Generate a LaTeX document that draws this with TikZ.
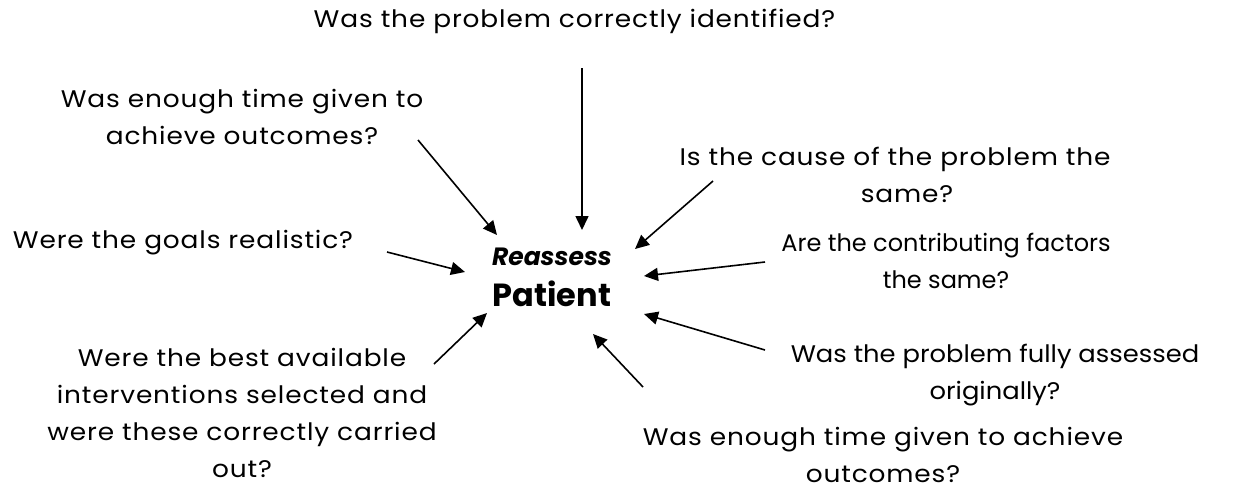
\documentclass[tikz,border=0pt]{standalone}
\usepackage{fontspec}
\setmainfont{Poppins}
\newfontfamily\qfont[FakeStretch=1.1,LetterSpace=3.6]{Poppins}
\newfontfamily\qfontb[FakeStretch=1.075]{Poppins}
\newfontfamily\qfontc{Poppins}
\usetikzlibrary{arrows.meta}
\begin{document}
\begin{tikzpicture}[x=1pt,y=-1pt,
  q/.style={font=\qfont\fontsize{24}{37}\selectfont, align=center, inner sep=0pt, anchor=center},
  qb/.style={q, font=\qfontb\fontsize{24}{37}\selectfont},
  qc/.style={q, font=\qfontc\fontsize{24}{37}\selectfont},
  arr/.style={line width=1.6pt, -{Triangle[length=14pt,width=13pt]}}]
\useasboundingbox (0,0) rectangle (1238,499);
\node[q] (t1) at (574.5,21) {Was the problem correctly identified?};
\node[q] (t2) at (242,117) {Was enough time given to\\achieve outcomes?};
\node[q] (t3) at (895,175) {Is the cause of the problem the\\\hspace*{24pt}same?};
\node[q] (t4) at (183,243) {Were the goals realistic?};
\node[qc] (t5) at (946,261) {Are the contributing factors\\the same?};
\node[q] (t6) at (242,413) {Were the best available\\interventions selected and\\were these correctly carried\\out?};
\node[qb] (t7) at (995,375) {Was the problem fully assessed\\originally?};
\node[q] (t8) at (883,455) {Was enough time given to achieve\\outcomes?};
\node[inner sep=0pt, align=center] (c) at (552,277)
  {{\fontsize{25}{30}\selectfont\bfseries\itshape Reassess}\\[14pt]{\fontsize{32}{36}\selectfont\bfseries Patient}};
\coordinate (s1) at (582,68);  \coordinate (e1) at (582,230);
\coordinate (s2) at (418,140); \coordinate (e2) at (497,235);
\coordinate (s3) at (713,181); \coordinate (e3) at (635,249);
\coordinate (s4) at (387,252); \coordinate (e4) at (465,272);
\coordinate (s5) at (765,262); \coordinate (e5) at (644,276);
\coordinate (s6) at (434,364); \coordinate (e6) at (487,313);
\coordinate (s7) at (765,350); \coordinate (e7) at (644,314);
\coordinate (s8) at (643,387); \coordinate (e8) at (593,334);
\foreach \i in {1,...,8} \draw[arr] (s\i) -- (e\i);
\end{tikzpicture}
\end{document}
